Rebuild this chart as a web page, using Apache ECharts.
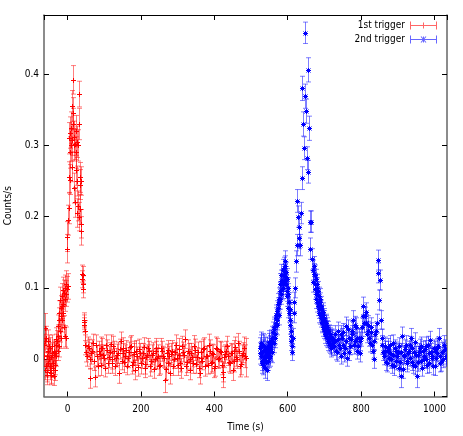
<!DOCTYPE html>
<html><head><meta charset="utf-8">
<script src="https://cdn.jsdelivr.net/npm/echarts@6/dist/echarts.min.js"></script>
<style>html,body{margin:0;padding:0;background:#fff}#c{width:463px;height:436px}</style>
</head><body><div id="c"></div>
<script>
// ---- data: 1st trigger (red) ----
const redTime = [
 -64,-62,-60,-58,-56,-54,-52,-50,-48,-46,-44,-42,-40,-38,-36,-34,-32,-30,
 -28,-27,-26,-25,-24,-23,-22,-21,-20,-19,-18,-17,-16,-15,-14,-13,
 -12,-11,-10,-9,-8,-7,-6,-5,-4,-3,-2,-1,
 0,1,2,3,4,5,6,7,8,9,10,11,12,
 13,14,15,16,17,18,19,20,21,22,23,24,25,
 26,27,28,29,30,31,32,33,34,35,36,37,38,
 39,40,41,42,43,44,45,46,47,48,
 50,55,60,65,70,75,80,85,90,95,100,105,110,115,120,125,130,135,140,145,
 150,155,160,165,170,175,180,185,190,195,200,205,210,215,220,225,230,235,240,245,
 250,255,260,265,270,275,280,285,290,295,300,305,310,315,320,325,330,335,340,345,
 350,355,360,365,370,375,380,385,390,395,400,405,410,415,420,425,430,435,440,445,
 450,455,460,465,470,475,480,485
];
const redRate = [
 0.005,0.044,0.025,-0.010,-0.022,0.012,-0.005,0.018,-0.015,0.003,-0.020,0.008,-0.012,-0.024,0.010,-0.008,0.020,0.005,
 0.025,0.012,0.032,0.046,0.018,0.055,0.065,0.040,0.083,0.060,0.072,0.030,0.074,0.055,0.088,0.065,
 0.097,0.078,0.045,0.093,0.032,0.100,0.085,0.105,0.092,0.030,0.098,0.155,
 0.172,0.102,0.195,0.212,0.255,0.310,0.290,0.318,0.252,0.300,0.325,0.270,0.308,
 0.355,0.345,0.392,0.330,0.300,0.240,0.312,0.220,0.302,0.265,0.320,0.290,0.305,
 0.250,0.205,0.300,0.215,0.200,0.372,0.330,0.255,0.245,0.210,0.190,0.250,0.180,
 0.120,0.112,0.118,0.105,0.098,0.052,0.048,0.055,0.040,0.020,
 0.010,0.018,-0.027,0.008,0.022,-0.025,0.005,0.012,-0.008,0.015,
 0.002,0.020,-0.005,0.010,0.000,0.018,-0.010,0.006,-0.020,0.025,
 0.008,-0.004,0.013,0.002,0.017,-0.008,0.010,-0.015,0.004,0.014,
 -0.006,0.009,-0.012,0.003,0.016,-0.009,0.006,-0.014,0.011,0.001,
 -0.010,0.015,0.004,-0.030,0.008,-0.005,-0.020,0.012,0.000,0.020,
 -0.008,0.006,-0.013,0.010,0.028,-0.004,0.008,-0.016,0.003,0.018,
 -0.007,0.010,-0.020,0.002,0.014,-0.010,0.005,0.020,-0.006,0.008,
 -0.012,0.016,0.000,0.011,-0.008,-0.025,0.007,0.018,-0.004,0.009,
 -0.015,0.012,0.003,0.022,-0.010,0.006,0.015,0.002
];
const redErr = [
 0.015,0.020,0.016,0.015,0.014,0.015,0.014,0.016,0.014,0.015,0.014,0.015,0.014,0.013,0.015,0.014,0.015,0.015,
 0.015,0.014,0.016,0.016,0.015,0.017,0.017,0.016,0.018,0.017,0.017,0.015,0.017,0.017,0.018,0.017,
 0.018,0.018,0.016,0.018,0.015,0.018,0.018,0.019,0.018,0.015,0.018,0.020,
 0.021,0.018,0.021,0.022,0.022,0.022,0.022,0.022,0.021,0.022,0.022,0.021,0.022,
 0.022,0.022,0.020,0.022,0.022,0.021,0.022,0.021,0.022,0.021,0.022,0.022,0.022,
 0.021,0.020,0.022,0.021,0.020,0.018,0.022,0.021,0.021,0.021,0.020,0.020,0.020,
 0.012,0.012,0.012,0.012,0.012,0.010,0.010,0.010,0.014,0.014,
 0.014,0.013,0.014,0.015,0.013,0.014,0.014,0.013,0.015,0.014,
 0.013,0.014,0.015,0.013,0.014,0.014,0.013,0.015,0.014,0.013,
 0.014,0.015,0.013,0.014,0.014,0.013,0.015,0.014,0.013,0.014,
 0.015,0.013,0.014,0.014,0.013,0.015,0.014,0.013,0.014,0.015,
 0.013,0.014,0.014,0.017,0.013,0.014,0.015,0.014,0.013,0.014,
 0.015,0.013,0.014,0.014,0.013,0.015,0.014,0.013,0.014,0.015,
 0.013,0.014,0.015,0.013,0.014,0.014,0.013,0.015,0.014,0.013,
 0.014,0.015,0.013,0.014,0.014,0.015,0.013,0.014,0.014,0.013,
 0.015,0.014,0.013,0.014,0.015,0.014,0.016,0.027
];
// second interleaved set of red bins
const redTime2 = [
 -63,-61,-59,-57,-55,-53,-51,-49,-47,-45,-43,-41,-39,-37,-35,-33,-31,
 52.5,57.5,62.5,67.5,72.5,77.5,82.5,87.5,92.5,97.5,102.5,107.5,112.5,117.5,122.5,127.5,132.5,137.5,142.5,147.5,
 152.5,157.5,162.5,167.5,172.5,177.5,182.5,187.5,192.5,197.5,202.5,207.5,212.5,217.5,222.5,227.5,232.5,237.5,242.5,247.5,
 252.5,257.5,262.5,267.5,272.5,277.5,282.5,287.5,292.5,297.5,302.5,307.5,312.5,317.5,322.5,327.5,332.5,337.5,342.5,347.5,
 352.5,357.5,362.5,367.5,372.5,377.5,382.5,387.5,392.5,397.5,402.5,407.5,412.5,417.5,422.5,427.5,432.5,437.5,442.5,447.5,
 452.5,457.5,462.5,467.5,472.5,477.5,482.5
];
const redRate2 = [
 0.020,-0.015,0.030,0.005,-0.018,0.025,0.000,-0.010,0.015,-0.022,0.006,0.018,-0.005,0.012,-0.016,0.008,0.028,
 0.004,0.015,0.000,0.012,-0.003,0.020,-0.010,0.007,0.016,0.006,-0.012,0.013,0.003,0.021,-0.006,0.011,0.002,0.009,0.014,-0.002,
 0.016,0.005,-0.009,0.010,0.019,-0.004,0.007,0.012,-0.011,0.008,0.002,0.017,-0.007,0.006,0.012,-0.003,0.009,0.000,0.015,0.005,
 -0.008,0.011,0.002,-0.014,0.013,0.004,0.007,-0.009,0.010,0.001,0.014,-0.005,0.018,0.006,-0.010,0.012,0.000,0.009,-0.006,0.013,
 0.003,-0.012,0.010,-0.002,0.016,0.004,-0.008,0.012,-0.004,0.007,-0.010,0.014,0.001,0.010,-0.018,0.003,0.012,0.005,-0.006,0.008,
 -0.003,0.017,0.000,0.011,-0.007,0.009,0.004
];
const redErr2 = [
 0.015,0.014,0.016,0.015,0.014,0.016,0.014,0.015,0.015,0.014,0.015,0.016,0.014,0.015,0.014,0.015,0.016,
 0.014,0.013,0.014,0.015,0.013,0.014,0.014,0.013,0.015,0.014,0.013,0.014,0.015,0.013,0.014,0.014,0.013,0.015,0.014,0.013,
 0.014,0.015,0.013,0.014,0.014,0.013,0.015,0.014,0.013,0.014,0.015,0.013,0.014,0.014,0.013,0.015,0.014,0.013,0.014,0.015,
 0.013,0.014,0.014,0.015,0.013,0.014,0.015,0.014,0.013,0.014,0.015,0.013,0.014,0.014,0.013,0.015,0.014,0.013,0.014,0.015,
 0.013,0.014,0.015,0.013,0.014,0.014,0.013,0.015,0.014,0.013,0.014,0.015,0.013,0.014,0.014,0.015,0.013,0.014,0.014,0.013,
 0.015,0.014,0.013,0.014,0.015,0.014,0.016
];
// ---- data: 2nd trigger (blue) ----
const blueTime = [
 524,526,528,530,532,534,536,538,540,542,544,546,548,550,552,554,556,558,
 560,562,564,566,568,570,572,574,576,578,580,582,584,586,588,590,592,594,596,598,600,602,604,606,608,610,612,
 614,616,618,620,622,624,626,628,630,632,634,636,638,640,642,644,646,648,650,652,654,656,658,660,662,664,666,668,
 670,672,674,676,678,680,682,684,686,688,690,692,694,696,698,700,702,704,706,708,710,712,714,716,718,720,
 722,726,730,734,738,742,746,750,754,758,762,766,770,774,778,782,786,790,794,798,
 802,806,810,814,818,822,826,830,834,838,842,845,847,849,851,853,856,
 860,864,868,872,876,880,884,888,892,896,900,904,908,912,916,920,924,928,932,936,
 940,944,948,952,956,960,964,968,972,976,980,984,988,992,996,1000,1004,1008,1012,1016,
 1020,1024,1028,1032
];
const blueRate = [
 0.015,0.005,0.022,-0.002,0.012,-0.008,0.018,0.003,0.010,-0.004,-0.016,0.008,0.020,0.002,0.014,0.025,0.010,0.030,
 0.038,0.022,0.045,0.035,0.058,0.048,0.068,0.078,0.062,0.095,0.085,0.110,0.098,0.125,0.105,0.118,0.137,0.115,0.122,0.095,0.100,0.072,0.080,0.055,0.040,0.025,0.010,
 0.030,0.065,0.080,0.100,0.137,0.160,0.222,0.200,0.170,0.185,0.160,0.205,0.380,0.254,0.330,0.296,0.369,0.458,0.348,0.282,0.406,0.263,0.324,0.193,0.155,0.193,0.140,0.125,
 0.108,0.130,0.098,0.112,0.085,0.100,0.075,0.088,0.065,0.080,0.058,0.070,0.050,0.062,0.042,0.055,0.035,0.048,0.030,0.042,0.025,0.036,0.020,0.032,0.015,0.028,
 0.030,0.018,0.025,0.010,0.028,0.015,0.035,0.020,0.008,0.046,0.002,0.030,0.018,0.040,0.055,0.025,0.045,0.012,0.030,0.008,
 0.045,0.074,0.060,0.050,0.040,0.030,0.045,0.020,0.000,0.035,0.050,0.121,0.139,0.083,0.111,0.055,0.030,
 0.010,0.018,-0.004,0.012,0.002,0.020,-0.008,0.006,0.015,-0.002,0.010,-0.012,-0.024,0.032,0.005,0.014,-0.006,0.008,0.020,0.030,
 -0.004,0.010,-0.010,-0.024,0.006,0.015,-0.002,0.012,0.000,0.018,-0.008,0.008,0.027,0.004,-0.010,0.012,0.002,0.016,0.030,-0.006,
 0.010,0.000,0.014,0.005
];
const blueErr = [
 0.015,0.014,0.016,0.014,0.015,0.014,0.016,0.014,0.015,0.014,0.014,0.015,0.016,0.014,0.015,0.016,0.015,0.016,
 0.014,0.013,0.014,0.014,0.014,0.014,0.014,0.014,0.014,0.014,0.015,0.015,0.015,0.015,0.015,0.015,0.015,0.015,0.014,0.014,0.014,0.014,0.013,0.013,0.013,0.013,0.012,
 0.013,0.014,0.014,0.014,0.015,0.015,0.016,0.015,0.015,0.015,0.015,0.015,0.017,0.016,0.017,0.016,0.017,0.015,0.017,0.016,0.017,0.016,0.017,0.015,0.015,0.015,0.015,0.014,
 0.014,0.014,0.014,0.014,0.014,0.014,0.014,0.013,0.014,0.013,0.013,0.013,0.013,0.013,0.013,0.013,0.013,0.013,0.013,0.012,0.013,0.012,0.012,0.012,0.012,0.012,
 0.012,0.013,0.012,0.013,0.012,0.013,0.012,0.013,0.012,0.013,0.012,0.013,0.012,0.013,0.013,0.012,0.013,0.012,0.013,0.012,
 0.013,0.013,0.013,0.012,0.013,0.012,0.013,0.012,0.013,0.012,0.013,0.014,0.014,0.014,0.014,0.013,0.012,
 0.012,0.013,0.012,0.013,0.012,0.013,0.012,0.013,0.012,0.013,0.012,0.013,0.016,0.013,0.012,0.013,0.012,0.013,0.012,0.013,
 0.012,0.013,0.012,0.016,0.012,0.013,0.012,0.013,0.012,0.013,0.012,0.013,0.012,0.013,0.012,0.013,0.012,0.013,0.013,0.012,
 0.013,0.012,0.013,0.012
];
// second interleaved set of blue bins
const blueTime2 = [
 525,527,529,531,533,535,537,539,541,543,545,547,549,551,553,555,557,
 561,563,565,567,569,571,573,575,577,579,581,583,585,587,589,591,593,595,597,599,601,603,605,607,609,611,
 671,673,675,677,679,681,683,685,687,689,691,693,695,697,699,701,703,705,707,709,711,713,715,717,719,
 724,728,732,736,740,744,748,752,756,760,764,768,772,776,780,784,788,792,796,800,
 804,808,812,816,820,824,828,832,836,840,
 858,862,866,870,874,878,882,886,890,894,898,902,906,910,914,918,922,926,930,934,
 938,942,946,950,954,958,962,966,970,974,978,982,986,990,994,998,1002,1006,1010,1014,
 1018,1022,1026,1030
];
const blueRate2 = [
 0.008,0.018,-0.006,0.010,0.020,0.000,-0.012,0.014,0.006,0.016,-0.002,0.010,0.024,0.004,0.018,0.012,0.022,
 0.030,0.042,0.030,0.050,0.062,0.055,0.072,0.085,0.080,0.105,0.092,0.118,0.110,0.100,0.128,0.110,0.130,0.105,0.112,0.088,0.092,0.065,0.070,0.048,0.032,0.018,
 0.120,0.105,0.118,0.092,0.105,0.080,0.095,0.070,0.085,0.062,0.075,0.052,0.066,0.045,0.058,0.040,0.050,0.032,0.045,0.028,0.040,0.022,0.035,0.018,0.030,
 0.022,0.035,0.012,0.040,0.020,0.005,0.030,0.038,0.015,0.025,0.042,0.010,0.028,0.035,0.020,0.048,0.030,0.018,0.025,0.030,
 0.060,0.050,0.066,0.035,0.048,0.022,0.038,0.012,0.025,0.040,
 0.020,0.004,0.012,-0.006,0.016,0.008,0.000,0.022,-0.010,0.012,0.004,0.018,-0.004,0.010,-0.014,0.006,0.020,-0.002,0.012,0.002,
 0.016,-0.008,0.024,0.006,-0.004,0.010,0.018,-0.012,0.004,0.014,0.000,0.020,-0.006,0.010,0.002,0.015,-0.010,0.008,0.018,0.004,
 -0.004,0.012,0.020,0.002
];
const blueErr2 = [
 0.015,0.016,0.014,0.015,0.016,0.014,0.015,0.016,0.014,0.015,0.014,0.015,0.016,0.014,0.015,0.015,0.016,
 0.014,0.014,0.014,0.014,0.014,0.014,0.014,0.015,0.014,0.015,0.015,0.015,0.015,0.015,0.015,0.015,0.015,0.014,0.015,0.014,0.014,0.013,0.013,0.013,0.013,0.012,
 0.014,0.014,0.014,0.014,0.014,0.014,0.014,0.013,0.014,0.013,0.013,0.013,0.013,0.013,0.013,0.013,0.013,0.013,0.013,0.012,0.013,0.012,0.012,0.012,0.012,
 0.013,0.012,0.013,0.012,0.013,0.012,0.013,0.012,0.013,0.012,0.013,0.012,0.013,0.012,0.013,0.012,0.013,0.012,0.013,0.012,
 0.013,0.013,0.013,0.012,0.013,0.012,0.013,0.012,0.013,0.012,
 0.013,0.012,0.013,0.012,0.013,0.012,0.013,0.012,0.013,0.012,0.013,0.012,0.013,0.012,0.013,0.012,0.013,0.012,0.013,0.012,
 0.013,0.012,0.013,0.012,0.013,0.012,0.013,0.012,0.013,0.012,0.013,0.012,0.013,0.012,0.013,0.012,0.013,0.012,0.013,0.012,
 0.013,0.012,0.013,0.012
];
const seriesNames = ['1st trigger', '2nd trigger'];
const xTickLabels = [0, 200, 400, 600, 800, 1000];
const yTickLabels = [0, 0.1, 0.2, 0.3, 0.4];
const xTitle = 'Time (s)';
const yTitle = 'Counts/s';

const FONT = "'Liberation Sans Narrow','Arial Narrow','DejaVu Sans Condensed',sans-serif";
const FS = 10;
const XMIN = -64, XMAX = 1034, YMIN = -0.0525, YMAX = 0.483;

function makeRender(markColor, barColor, star) {
  return function (params, api) {
    const t = api.value(0), v = api.value(1), e = api.value(2);
    const p = api.coord([t, v]);
    const hi = api.coord([t, v + e]);
    const lo = api.coord([t, v - e]);
    const x = Math.round(p[0]) + 0.5;
    const y = Math.round(p[1]) + 0.5;
    const cw = 2.5, m = 2.5, d = 2;
    const bs = { stroke: barColor, lineWidth: 1 };
    const ms = { stroke: markColor, lineWidth: 1 };
    const ch = [
      { type: 'line', shape: { x1: x, y1: hi[1], x2: x, y2: lo[1] }, style: bs },
      { type: 'line', shape: { x1: x - cw, y1: hi[1], x2: x + cw, y2: hi[1] }, style: bs },
      { type: 'line', shape: { x1: x - cw, y1: lo[1], x2: x + cw, y2: lo[1] }, style: bs },
      { type: 'line', shape: { x1: x - m, y1: y, x2: x + m, y2: y }, style: ms },
      { type: 'line', shape: { x1: x, y1: y - m, x2: x, y2: y + m }, style: ms }
    ];
    if (star) {
      ch.push({ type: 'line', shape: { x1: x - d, y1: y - d, x2: x + d, y2: y + d }, style: ms });
      ch.push({ type: 'line', shape: { x1: x - d, y1: y + d, x2: x + d, y2: y - d }, style: ms });
    }
    return { type: 'group', children: ch };
  };
}

function rows(T, R, E) { return T.map((t, i) => [t, R[i], E[i]]); }
const redData = rows(redTime, redRate, redErr).concat(rows(redTime2, redRate2, redErr2));
const blueData = rows(blueTime, blueRate, blueErr).concat(rows(blueTime2, blueRate2, blueErr2));

const iconRed = 'path://M0,0h1v8h-1z M26,0h1v8h-1z M0,3.5h27v1h-27z M13,1h1v6h-1z';
const iconBlue = 'path://M0,0h1v8h-1z M26,0h1v8h-1z M0,3.5h27v1h-27z M13,1h1v6h-1z M10.6,1.3L11.4,0.7L16.4,6.7L15.6,7.3Z M15.6,0.7L16.4,1.3L11.4,7.3L10.6,6.7Z';

const labelFmtX = v => (xTickLabels.indexOf(Math.round(v)) >= 0 && Math.abs(v - Math.round(v)) < 1e-6) ? String(Math.round(v)) : '';
const labelFmtY = v => {
  for (const t of yTickLabels) if (Math.abs(v - t) < 1e-6) return String(t);
  return '';
};

const chart = echarts.init(document.getElementById('c'), null, { renderer: 'canvas' });
chart.setOption({
  animation: false,
  backgroundColor: '#fff',
  textStyle: { fontFamily: FONT },
  grid: { left: 44, right: 16, top: 15, bottom: 39.5, containLabel: false, outerBoundsMode: 'none' },
  legend: {
    orient: 'vertical', right: 26, top: 20, align: 'right', padding: 0,
    itemWidth: 27, itemHeight: 8, itemGap: 3,
    textStyle: { fontSize: FS, fontFamily: FONT, color: '#000', lineHeight: 11 },
    selectedMode: false,
    data: [
      { name: seriesNames[0], icon: iconRed, itemStyle: { color: 'rgba(255,0,0,0.6)' } },
      { name: seriesNames[1], icon: iconBlue, itemStyle: { color: 'rgba(0,0,255,0.6)' } }
    ]
  },
  xAxis: [
    {
      type: 'value', min: XMIN, max: XMAX, position: 'bottom',
      name: xTitle, nameLocation: 'middle', nameGap: 26,
      nameTextStyle: { fontSize: FS, fontFamily: FONT, color: '#000' },
      axisLine: { show: true, onZero: false, lineStyle: { color: '#666', width: 1.5 } },
      axisTick: { show: true, inside: true, length: 5, lineStyle: { color: '#000', width: 1 } },
      axisLabel: { show: true, margin: 8, fontSize: FS, fontFamily: FONT, color: '#000',
        showMinLabel: false, showMaxLabel: false, formatter: labelFmtX },
      splitLine: { show: false }
    },
    {
      type: 'value', min: XMIN, max: XMAX, position: 'top',
      axisLine: { show: true, onZero: false, lineStyle: { color: '#000', width: 1 } },
      axisTick: { show: true, inside: true, length: 5, lineStyle: { color: '#000', width: 1 } },
      axisLabel: { show: false },
      splitLine: { show: false }
    }
  ],
  yAxis: [
    {
      type: 'value', min: YMIN, max: YMAX, position: 'left',
      name: yTitle, nameLocation: 'middle', nameGap: 31, nameRotate: 90,
      nameTextStyle: { fontSize: FS, fontFamily: FONT, color: '#000' },
      axisLine: { show: true, onZero: false, lineStyle: { color: '#666', width: 1.5 } },
      axisTick: { show: true, inside: true, length: 5, lineStyle: { color: '#000', width: 1 } },
      axisLabel: { show: true, margin: 5, fontSize: FS, fontFamily: FONT, color: '#000',
        showMinLabel: false, showMaxLabel: false, formatter: labelFmtY },
      splitLine: { show: false }
    },
    {
      type: 'value', min: YMIN, max: YMAX, position: 'right',
      axisLine: { show: true, onZero: false, lineStyle: { color: '#666', width: 1.5 } },
      axisTick: { show: true, inside: true, length: 5, lineStyle: { color: '#000', width: 1 } },
      axisLabel: { show: false },
      splitLine: { show: false }
    }
  ],
  series: [
    {
      name: seriesNames[0], type: 'custom', xAxisIndex: 0, yAxisIndex: 0, clip: true,
      itemStyle: { color: '#ff0000' },
      renderItem: makeRender('rgba(255,0,0,1)', 'rgba(255,0,0,0.5)', false),
      encode: { x: 0, y: 1 },
      data: redData
    },
    {
      name: seriesNames[1], type: 'custom', xAxisIndex: 0, yAxisIndex: 0, clip: true,
      itemStyle: { color: '#0000ff' },
      renderItem: makeRender('rgba(0,0,255,1)', 'rgba(0,0,255,0.5)', true),
      encode: { x: 0, y: 1 },
      data: blueData
    }
  ]
});
</script>
</body></html>
